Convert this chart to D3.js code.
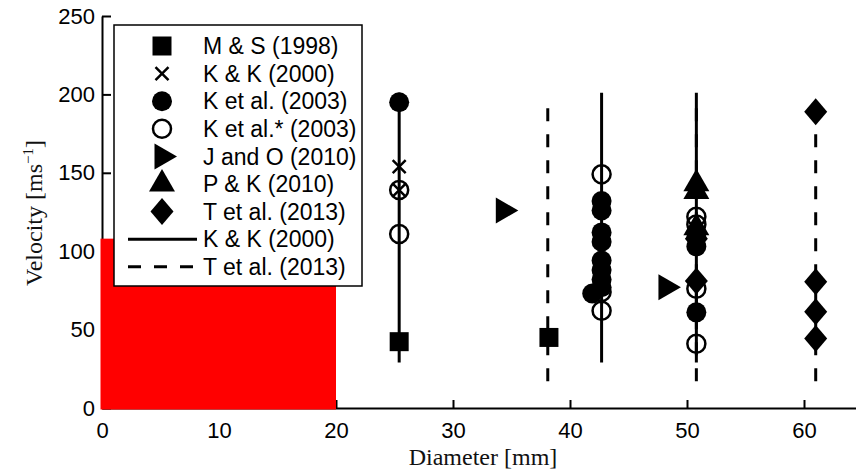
<!DOCTYPE html>
<html>
<head>
<meta charset="utf-8">
<script src="https://cdn.jsdelivr.net/npm/d3@7"></script>
<style>
  html, body { margin: 0; padding: 0; background: #fff; }
  svg { display: block; }
</style>
</head>
<body>
<div id="chart"></div>
<script>
// data: [diameter mm, velocity m/s]
const msPoints = [[25.4, 42.3], [38.2, 45]];
const kk2000Points = [[25.4, 154], [25.4, 139]];
const ket2003Points = [[25.4, 195], [42.7, 132], [42.7, 126], [42.7, 112], [42.7, 106],
  [42.7, 94], [42.7, 88], [42.7, 82], [42.7, 77], [41.9, 73],
  [50.8, 109], [50.8, 103], [50.8, 61]];
const ketStarPoints = [[25.4, 139], [25.4, 111], [42.7, 149], [42.7, 74], [42.7, 62],
  [50.8, 122], [50.8, 117], [50.8, 76], [50.8, 41]];
const joPoints = [[34.3, 126], [48.2, 77]];
const pkPoints = [[50.8, 143], [50.8, 138], [50.8, 115]];
const tetPoints = [[61, 189], [61, 80.5], [61, 61.4], [61, 44.4], [50.8, 81], [50.8, 108]];

// vertical ranges: [diameter, low, high]
const kkLines = [[25.4, 29, 201], [42.7, 29, 201], [50.8, 29, 201]];
const tetLines = [[38.1, 17, 195], [50.8, 17, 195], [61, 17, 195]];

// red block
const redBlock = {x0: 0, x1: 20, y0: 0, y1: 108};

const xTicks = [0, 10, 20, 30, 40, 50, 60];
const yTicks = [0, 50, 100, 150, 200, 250];

const legendLabels = ["M & S (1998)", "K & K (2000)", "K et al. (2003)", "K et al.* (2003)",
  "J and O (2010)", "P & K (2010)", "T et al. (2013)", "K & K (2000)", "T et al. (2013)"];
const legendKinds = ["square", "cross", "dot", "ring", "right", "up", "diamond", "solid", "dashed"];

const width = 856, height = 473;

const x = d3.scaleLinear().domain([0, 65]).range([102, 862.5]);
const y = d3.scaleLinear().domain([0, 250]).range([408, 16]);

const svg = d3.select("#chart").append("svg")
  .attr("width", width)
  .attr("height", height);

// diamond and right-pointing triangle as custom symbol types
const symbolDiamondWide = {
  draw(ctx) {
    ctx.moveTo(0, -13.5); ctx.lineTo(11.5, 0); ctx.lineTo(0, 13.5); ctx.lineTo(-11.5, 0); ctx.closePath();
  }
};
const symbolRight = {
  draw(ctx) {
    ctx.moveTo(15, 0); ctx.lineTo(-7.5, -13); ctx.lineTo(-7.5, 13); ctx.closePath();
  }
};

const markers = {
  square: {type: d3.symbolSquare, size: 361, fill: "#000", stroke: "none", sw: 0},
  cross: {type: d3.symbolX, size: 112, fill: "none", stroke: "#000", sw: 2.5},
  dot: {type: d3.symbolCircle, size: 314, fill: "#000", stroke: "none", sw: 0},
  ring: {type: d3.symbolCircle, size: 255, fill: "none", stroke: "#000", sw: 2.5},
  right: {type: symbolRight, size: 1, fill: "#000", stroke: "none", sw: 0},
  up: {type: d3.symbolTriangle, size: 292, fill: "#000", stroke: "none", sw: 0},
  diamond: {type: symbolDiamondWide, size: 1, fill: "#000", stroke: "none", sw: 0}
};

// axes
const yAxis = d3.axisLeft(y).tickValues(yTicks).tickSizeInner(-9).tickSizeOuter(0).tickPadding(7);
const xAxis = d3.axisBottom(x).tickValues(xTicks).tickSizeInner(-8).tickSizeOuter(0).tickPadding(14);

const gy = svg.append("g").attr("transform", `translate(${x(0)},0)`).call(yAxis);
const gx = svg.append("g").attr("transform", `translate(0,${y(0)})`).call(xAxis);

[gx, gy].forEach(g => {
  g.selectAll("path, line").attr("stroke", "#000").attr("stroke-width", 2);
  g.selectAll("text")
    .attr("fill", "#000")
    .style("font-family", "'Liberation Sans', Arial, sans-serif")
    .style("font-size", "22px");
});

// red block on top of the axis corner
svg.append("rect")
  .attr("x", x(redBlock.x0) - 1.5)
  .attr("y", y(redBlock.y1))
  .attr("width", x(redBlock.x1) - x(redBlock.x0) + 1.5)
  .attr("height", y(redBlock.y0) - y(redBlock.y1) + 1.5)
  .attr("fill", "#ff0000");

// vertical range lines
svg.append("g").selectAll("line")
  .data(tetLines).enter()
  .append("line")
  .attr("x1", d => x(d[0])).attr("x2", d => x(d[0]))
  .attr("y1", d => y(d[1])).attr("y2", d => y(d[2]))
  .attr("stroke", "#000")
  .attr("stroke-width", 3)
  .attr("stroke-dasharray", "13 13");

svg.append("g").selectAll("line")
  .data(kkLines).enter()
  .append("line")
  .attr("x1", d => x(d[0])).attr("x2", d => x(d[0]))
  .attr("y1", d => y(d[1])).attr("y2", d => y(d[2]))
  .attr("stroke", "#000")
  .attr("stroke-width", 3);

function drawPoints(points, kind) {
  const m = markers[kind];
  svg.append("g").selectAll("path")
    .data(points).enter()
    .append("path")
    .attr("d", d3.symbol().type(m.type).size(m.size))
    .attr("transform", d => `translate(${x(d[0])},${y(d[1])})`)
    .attr("fill", m.fill)
    .attr("stroke", m.stroke)
    .attr("stroke-width", m.sw);
}

drawPoints(msPoints, "square");
drawPoints(ket2003Points, "dot");
drawPoints(ketStarPoints, "ring");
drawPoints(kk2000Points, "cross");
drawPoints(joPoints, "right");
drawPoints(pkPoints, "up");
drawPoints(tetPoints, "diamond");

// axis labels
svg.append("text")
  .attr("x", 483).attr("y", 465)
  .attr("text-anchor", "middle")
  .style("font-family", "'Liberation Serif', 'Times New Roman', serif")
  .style("font-size", "24px")
  .attr("fill", "#111")
  .text("Diameter [mm]");

const ylab = svg.append("text")
  .attr("transform", "translate(42,213) rotate(-90)")
  .attr("text-anchor", "middle")
  .style("font-family", "'Liberation Serif', 'Times New Roman', serif")
  .style("font-size", "24px")
  .attr("fill", "#111");
ylab.append("tspan").text("Velocity [ms");
ylab.append("tspan").attr("dy", -9).style("font-size", "15px").text("−1");
ylab.append("tspan").attr("dy", 9).text("]");

// legend
const legend = svg.append("g");
legend.append("rect")
  .attr("x", 114).attr("y", 25)
  .attr("width", 248).attr("height", 261)
  .attr("fill", "#fff")
  .attr("stroke", "#000")
  .attr("stroke-width", 1.5);

const rowY = i => 46 + i * 27.6;

legendKinds.forEach((kind, i) => {
  const cy = rowY(i);
  if (kind === "solid" || kind === "dashed") {
    legend.append("line")
      .attr("x1", 128).attr("x2", 197)
      .attr("y1", cy).attr("y2", cy)
      .attr("stroke", "#000")
      .attr("stroke-width", 3)
      .attr("stroke-dasharray", kind === "dashed" ? "13 13" : null);
  } else {
    const m = markers[kind];
    legend.append("path")
      .attr("d", d3.symbol().type(m.type).size(m.size))
      .attr("transform", `translate(162,${cy})`)
      .attr("fill", m.fill)
      .attr("stroke", m.stroke)
      .attr("stroke-width", m.sw);
  }
  legend.append("text")
    .attr("x", 203).attr("y", cy)
    .attr("dy", "0.36em")
    .style("font-family", "'Liberation Sans', Arial, sans-serif")
    .style("font-size", "23px")
    .attr("fill", "#000")
    .text(legendLabels[i]);
});
</script>
</body>
</html>
